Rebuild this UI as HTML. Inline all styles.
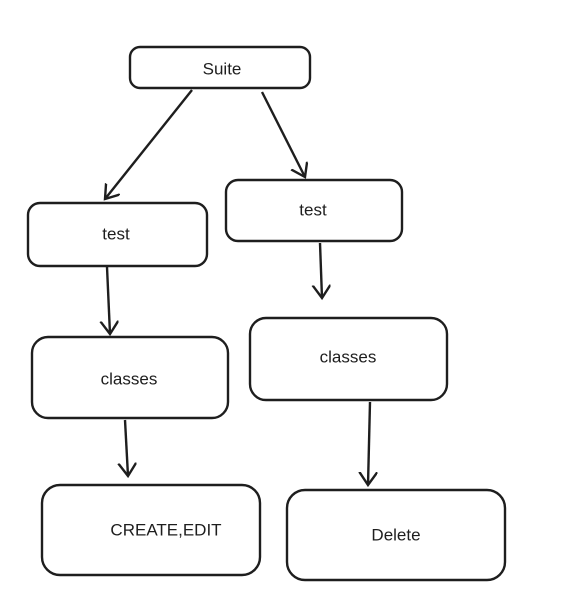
<!DOCTYPE html>
<html><head><meta charset="utf-8"><style>
html,body{margin:0;padding:0;background:#fff;}
svg{display:block;}
text{font-family:"Liberation Sans",sans-serif;font-size:17px;fill:#1e1e1e;text-anchor:middle;dominant-baseline:middle;}
.b{fill:none;stroke:#1e1e1e;stroke-width:2.4;}
</style></head><body>
<svg width="567" height="609" viewBox="0 0 567 609">
<defs><marker id="a" markerWidth="20" markerHeight="20" refX="13" refY="9" orient="auto" markerUnits="userSpaceOnUse"><path d="M0,0 L13,9 L0,18" fill="none" stroke="#1e1e1e" stroke-width="2.4"/></marker></defs>
<rect class="b" x="130" y="47" width="180" height="41" rx="10"/>
<text x="222" y="70">Suite</text>
<rect class="b" x="28" y="203" width="179" height="63" rx="12"/>
<text x="116" y="235">test</text>
<rect class="b" x="226" y="180" width="176" height="61" rx="12"/>
<text x="313" y="211">test</text>
<rect class="b" x="32" y="337" width="196" height="81" rx="16"/>
<text x="129" y="380">classes</text>
<rect class="b" x="250" y="318" width="197" height="82" rx="16"/>
<text x="348" y="358">classes</text>
<rect class="b" x="42" y="485" width="218" height="90" rx="18"/>
<text x="166" y="531">CREATE,EDIT</text>
<rect class="b" x="287" y="490" width="218" height="90" rx="18"/>
<text x="396" y="536">Delete</text>
<g class="b">
<path d="M192 90 L105 199" marker-end="url(#a)"/>
<path d="M262 92 L305 177" marker-end="url(#a)"/>
<path d="M107 267 L110 334" marker-end="url(#a)"/>
<path d="M320 243 L322 298" marker-end="url(#a)"/>
<path d="M125 420 L128 476" marker-end="url(#a)"/>
<path d="M370 402 L368 485" marker-end="url(#a)"/>
</g>
</svg>
</body></html>
